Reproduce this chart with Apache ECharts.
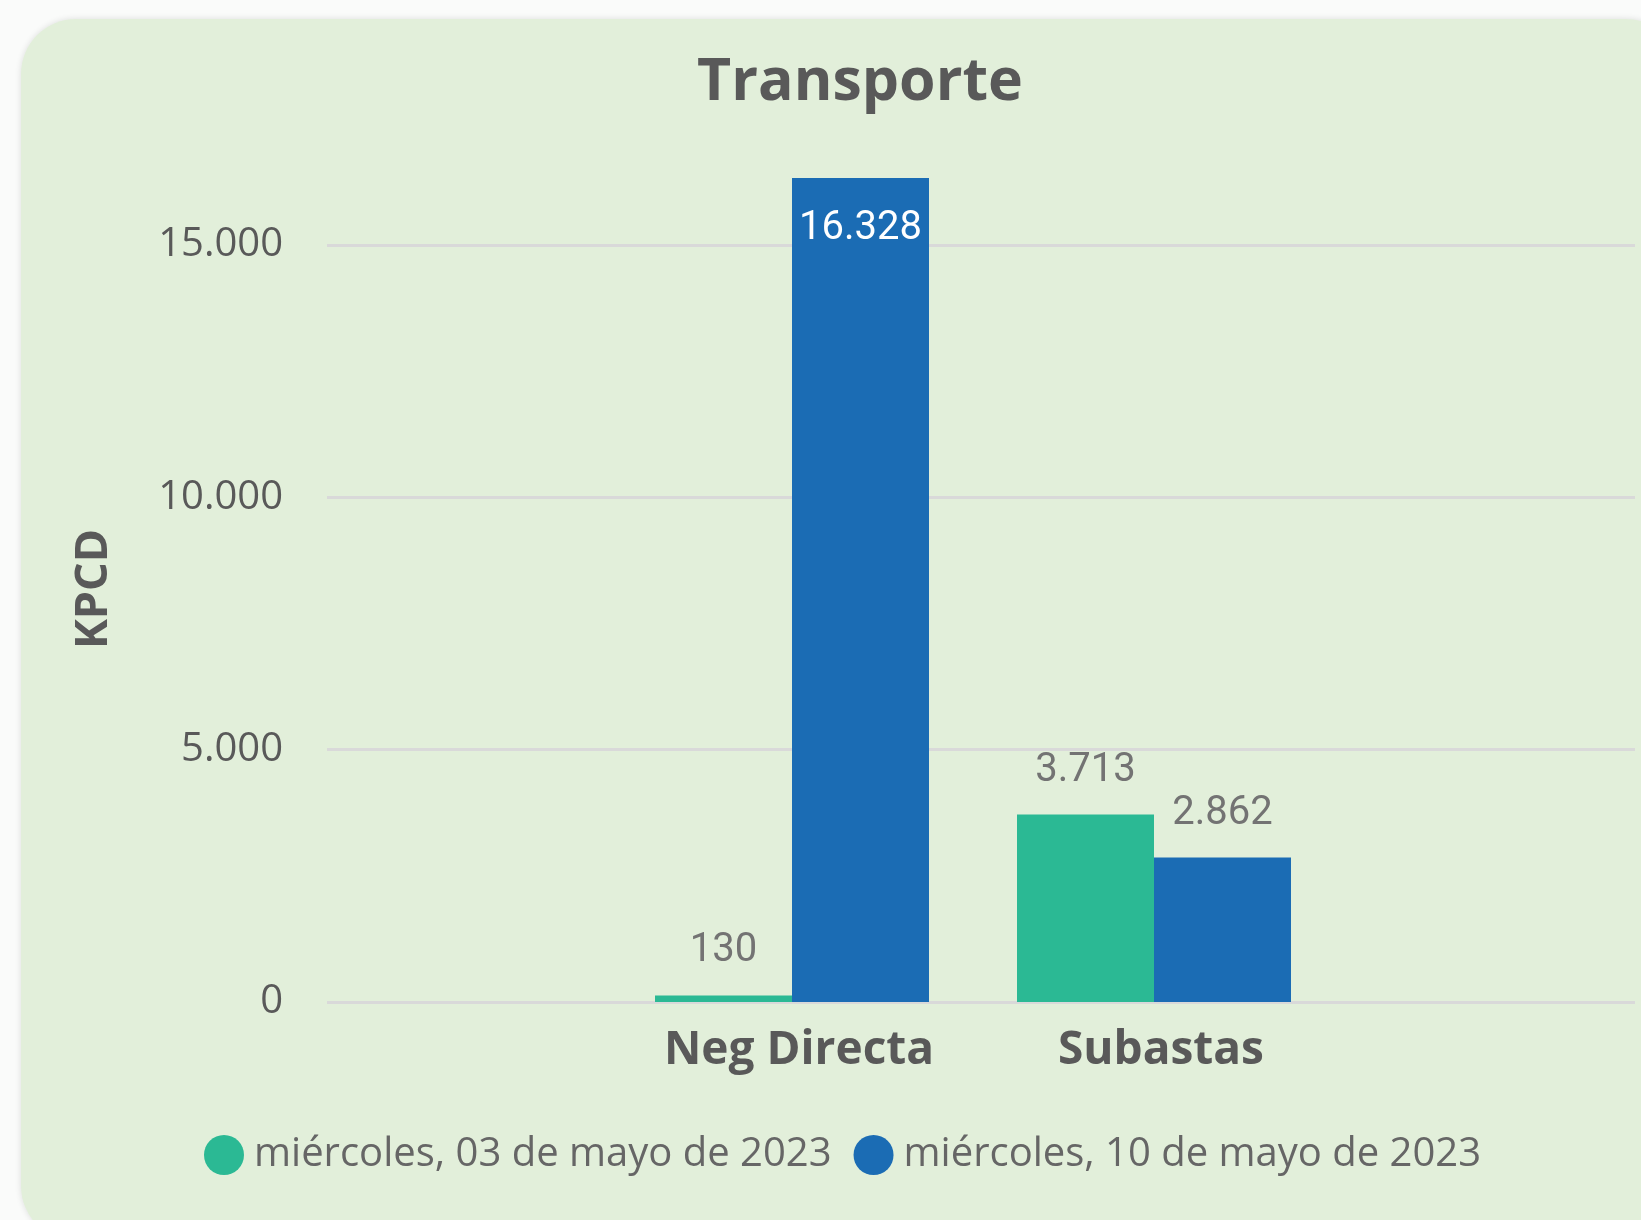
<!DOCTYPE html>
<html>
<head>
<meta charset="utf-8">
<script src="https://cdn.jsdelivr.net/npm/echarts@6/dist/echarts.min.js"></script>
<style>
html,body{margin:0;padding:0;background:#fafbfa;}
#chart{width:1641px;height:1220px;}
</style>
</head>
<body>
<div id="chart"></div>
<script>
var categories = ['Neg Directa', 'Subastas'];
var seriesNames = ['miércoles, 03 de mayo de 2023', 'miércoles, 10 de mayo de 2023'];
var values0503 = [130, 3713];
var values1005 = [16328, 2862];
var yTicks = [0, 5000, 10000, 15000];
var yAxisTitle = 'KPCD';
var chartTitle = 'Transporte';
var colors = ['#2BB994', '#1B6CB4'];

function fmt(v) {
  return String(Math.round(v)).replace(/\B(?=(\d{3})+(?!\d))/g, '.');
}

var TOP = 144, BOTTOM = 218, YMAX = 17000;
var sansFont = '"Open Sans", "Noto Sans", sans-serif';
var numFont = 'Roboto, "Noto Sans", sans-serif';

function makeData(vals, insideAbove) {
  return vals.map(function (v) {
    if (insideAbove && v > 15000) {
      return { value: v, label: { position: 'insideTop', distance: 31, color: '#ffffff' } };
    }
    return v;
  });
}

var chart = echarts.init(document.getElementById('chart'), null, { renderer: 'canvas' });
chart.setOption({
  backgroundColor: 'transparent',
  animation: false,
  graphic: [
    {
      type: 'rect', z: -10, silent: true,
      shape: { x: 21, y: 19, width: 1660, height: 1222, r: 55 },
      style: { fill: '#E2EFDA', shadowBlur: 6, shadowColor: 'rgba(0,0,0,0.12)' }
    },
    {
      type: 'text', x: 94, y: 589, rotation: Math.PI / 2,
      style: {
        text: yAxisTitle, align: 'center', verticalAlign: 'middle',
        font: 'bold 45px ' + sansFont, fill: '#595959'
      }
    }
  ],
  title: {
    text: chartTitle,
    left: 855, top: 49, textAlign: 'center',
    textStyle: { fontFamily: sansFont, fontSize: 59, fontWeight: 'bold', color: '#595959' }
  },
  legend: {
    data: seriesNames,
    left: 204, top: 1135,
    itemWidth: 40, itemHeight: 40, itemGap: 22,
    icon: 'circle', padding: 0,
    textStyle: { fontFamily: sansFont, fontSize: 40, color: '#666666', padding: [0, 0, 0, 5] }
  },
  grid: [
    { left: 327, right: 6, top: TOP, bottom: BOTTOM },
    { left: 611, right: 306, top: TOP, bottom: BOTTOM }
  ],
  xAxis: [
    { type: 'category', gridIndex: 0, data: categories, show: false },
    {
      type: 'category', gridIndex: 1, data: categories,
      axisLine: { show: false }, axisTick: { show: false },
      axisLabel: { fontFamily: sansFont, fontSize: 46, fontWeight: 'bold', color: '#595959', margin: 26,
        padding: [0, 0, 0, 14] }
    }
  ],
  yAxis: [
    {
      type: 'value', gridIndex: 0, min: 0, max: YMAX, interval: 5000,
      axisLine: { show: false }, axisTick: { show: false },
      axisLabel: {
        fontFamily: sansFont, fontSize: 40, color: '#595959', margin: 44,
        showMaxLabel: false, padding: [8, 0, 0, 0],
        formatter: function (v) { return yTicks.indexOf(v) >= 0 ? fmt(v) : ''; }
      },
      splitLine: { show: true, showMaxLine: false, lineStyle: { color: '#D9D9D9', width: 3 } }
    },
    { type: 'value', gridIndex: 1, min: 0, max: YMAX, interval: 5000, show: false, splitLine: { show: false } }
  ],
  series: [
    {
      name: seriesNames[0], type: 'bar', xAxisIndex: 1, yAxisIndex: 1,
      data: makeData(values0503, false),
      barWidth: 137, barGap: '0%',
      itemStyle: { color: colors[0] },
      label: { show: true, position: 'top', distance: 24, fontFamily: numFont, fontSize: 40, color: '#737373',
        formatter: function (p) { return fmt(p.value); } }
    },
    {
      name: seriesNames[1], type: 'bar', xAxisIndex: 1, yAxisIndex: 1,
      data: makeData(values1005, true),
      barWidth: 137, barGap: '0%',
      itemStyle: { color: colors[1] },
      label: { show: true, position: 'top', distance: 24, fontFamily: numFont, fontSize: 40, color: '#737373',
        formatter: function (p) { return fmt(p.value); } }
    }
  ]
});
</script>
</body>
</html>
